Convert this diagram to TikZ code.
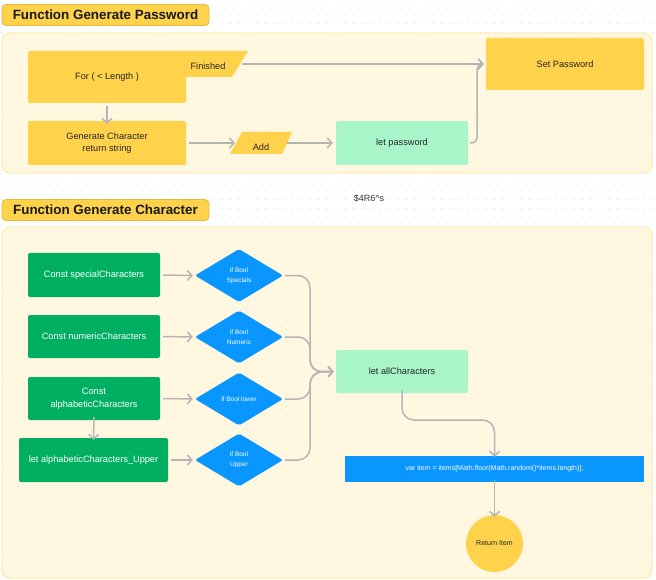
\documentclass[tikz,border=0pt]{standalone}
\usepackage{fontspec}
\setmainfont{Liberation Sans}
\usetikzlibrary{arrows.meta,shapes.geometric}
\definecolor{ylw}{HTML}{FFD24C}
\definecolor{ylwborder}{HTML}{E9B93C}
\definecolor{panel}{HTML}{FFF7DF}
\definecolor{panelborder}{HTML}{FFE597}
\definecolor{mint}{HTML}{A8F5C9}
\definecolor{grn}{HTML}{00AF61}
\definecolor{blu}{HTML}{0A96FF}
\definecolor{gry}{HTML}{B5B5B5}
\definecolor{dotc}{HTML}{CFCFCF}
\tikzset{
  x=1pt, y=-1pt,
  basebox/.style={rounded corners=2pt, inner sep=0pt, align=center, font=\fontsize{9.2}{12.5}\selectfont},
  ybox/.style={basebox, fill=ylw, text=black!85},
  mbox/.style={basebox, fill=mint, text=black!85},
  gbox/.style={basebox, fill=grn, text=white},
  dia/.style={diamond, fill=blu, text=white, inner sep=0pt, minimum width=88pt, minimum height=53pt, rounded corners=2pt, align=center, font=\fontsize{6.5}{10}\selectfont},
  conn/.style={draw=gry, line width=1.5pt, -{Straight Barb[length=4.5pt,width=10pt]}},
  title/.style={fill=ylw, draw=ylwborder, line width=0.8pt, rounded corners=4pt, inner sep=0pt, font=\fontsize{13.4}{16}\selectfont\bfseries, text=black!90},
  panelbox/.style={fill=panel, draw=panelborder, line width=0.8pt, rounded corners=8pt},
  lbl/.style={font=\fontsize{9.2}{11}\selectfont, text=black!85, inner sep=0pt},
}
\begin{document}
\begin{tikzpicture}
\useasboundingbox (0,0) rectangle (656,580);
\fill[white] (0,0) rectangle (656,580);
% dotted grid
\foreach \i in {0,...,74}{
  \foreach \j in {0,...,65}{
    \fill[dotc] ({1.6+\i*8.8},{6+\j*8.8}) circle (0.5pt);
  }
}
% panels
\draw[panelbox] (2,33) rectangle (652,173);
\draw[panelbox] (2,227) rectangle (652,578);
% titles
\node[title, minimum width=207pt, minimum height=21pt] (t1) at (105.5,15) {Function Generate Password};
\node[title, minimum width=207pt, minimum height=21pt] (t2) at (105.5,210) {Function Generate Character};
\node[font=\fontsize{9}{11}\selectfont, text=black!80, inner sep=0pt] (code) at (369,198) {\$4R6\textasciicircum s};

% ---------- section 1 ----------
\node[ybox, minimum width=158pt, minimum height=52pt] (for) at (107,77) {For ( < Length )};
\fill[ylw] (183,51) -- (248,51) -- (232,77) -- (183,77) -- cycle;
\node[lbl] (fin) at (208,66) {Finished};
\coordinate (finout) at (242,64);
\node[ybox, minimum width=158pt, minimum height=44pt] (gen) at (107,143) {Generate Character\\return string};
\fill[ylw] (242,132) -- (292,132) -- (282,154) -- (230,154) -- cycle;
\node[lbl] (add) at (261,147) {Add};
\coordinate (addin) at (235,143);
\coordinate (addout) at (287,143);
\node[mbox, minimum width=132pt, minimum height=44pt] (lp) at (402,143) {let password};
\node[ybox, minimum width=158pt, minimum height=52pt] (sp) at (565,64) {Set Password};

\draw[conn] (for.south) ++(0,3) -- ([yshift=-3pt]gen.north);
\draw[conn] (finout) -- ([xshift=-2pt]sp.west);
\draw[conn] ([xshift=3pt]gen.east) -- (addin);
\draw[conn] (addout) -- ([xshift=-3pt]lp.west);
\draw[conn, rounded corners=6pt] ([xshift=2pt]lp.east) -- (477,143) -- (477,64) -- ([xshift=-2pt]sp.west);

% ---------- section 2 ----------
\node[gbox, minimum width=132pt, minimum height=44pt] (spc) at (94,275) {Const specialCharacters};
\node[gbox, minimum width=132pt, minimum height=43pt] (num) at (94,336.5) {Const numericCharacters};
\node[gbox, minimum width=132pt, minimum height=43pt] (alp) at (94,398.5) {Const\\alphabeticCharacters};
\node[gbox, minimum width=149pt, minimum height=44pt] (upp) at (93.5,460) {let alphabeticCharacters\_Upper};

\node[dia] (d1) at (239,275.5) {if Bool\\Specials};
\node[dia] (d2) at (239,337) {if Bool\\Numeric};
\node[dia] (d3) at (239,399) {if Bool lower};
\node[dia] (d4) at (239,460) {if Bool\\Upper};

\node[mbox, minimum width=132pt, minimum height=43pt] (ac) at (402,371.5) {let allCharacters};
\node[fill=blu, text=white, inner sep=0pt, minimum width=299pt, minimum height=26pt, font=\fontsize{7}{8}\selectfont] (var) at (494.5,469) {var item = items[Math.floor(Math.random()*items.length)];};
\node[circle, fill=ylw, inner sep=0pt, minimum size=57pt, font=\fontsize{7}{8}\selectfont, text=black!85] (ret) at (494.5,543.5) {Return Item};

\draw[conn] ([xshift=3pt]spc.east) -- ([xshift=-2pt]d1.west);
\draw[conn] ([xshift=3pt]num.east) -- ([xshift=-2pt]d2.west);
\draw[conn] ([xshift=3pt]alp.east) -- ([xshift=-2pt]d3.west);
\draw[conn] ([xshift=3pt]upp.east) -- ([xshift=-2pt]d4.west);
\draw[conn] ([yshift=3pt]alp.south) -- ([yshift=-2pt]upp.north);

\coordinate (merge) at (310,372);
\draw[conn, rounded corners=12pt] ([xshift=2pt]d1.east) -- (310,275.5) -- (merge) -- ([xshift=-2pt]ac.west);
\draw[conn, rounded corners=12pt] ([xshift=2pt]d2.east) -- (310,337) -- (merge) -- ([xshift=-2pt]ac.west);
\draw[conn, rounded corners=12pt] ([xshift=2pt]d3.east) -- (310,399) -- (merge) -- ([xshift=-2pt]ac.west);
\draw[conn, rounded corners=12pt] ([xshift=2pt]d4.east) -- (310,460) -- (merge) -- ([xshift=-2pt]ac.west);

\draw[conn, rounded corners=12pt] ([yshift=3pt]ac.south) -- (402,420) -- (494.5,420) -- ([yshift=-1pt]var.north);
\draw[conn] ([yshift=2pt]var.south) -- ([yshift=-2pt]ret.north);
\end{tikzpicture}
\end{document}
